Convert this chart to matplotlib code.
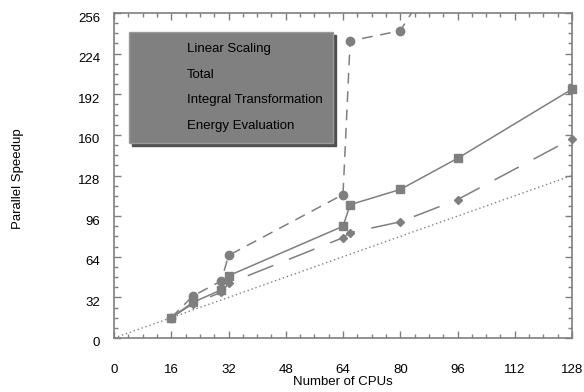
import matplotlib
matplotlib.use("Agg")
import matplotlib.pyplot as plt
import matplotlib.transforms as mtransforms
from matplotlib.lines import Line2D
from matplotlib.ticker import MultipleLocator

plt.rcParams['font.family'] = ['Liberation Sans', 'DejaVu Sans']

# data
linear_x = [0, 128]
linear_y = [0, 128]

total_x = [16, 22, 30, 32, 64, 66, 80, 96, 128]
total_y = [16, 28, 38, 49, 88, 105, 117, 141.5, 196]

integral_x = [16, 22, 30, 32, 64, 66, 80, 96]
integral_y = [16, 33, 45, 65, 113, 234, 242, 313]

energy_x = [16, 22, 30, 32, 64, 66, 80, 96, 128]
energy_y = [16, 27, 36, 43, 79, 83, 91.5, 109, 157]

labels = ["Linear Scaling", "Total", "Integral Transformation", "Energy Evaluation"]

grey = '#7f7f7f'

fig = plt.figure(figsize=(5.84, 3.92), dpi=100)
ax = fig.add_axes([114/584, 1-338/392, 458/584, 325/392])

ax.plot(linear_x, linear_y, color=grey, lw=1, dashes=(1, 2))
ax.plot(total_x, total_y, color=grey, lw=1.1, marker='s', ms=6, clip_on=False)
ax.plot(integral_x, integral_y, color=grey, lw=1.1, marker='o', ms=6, dashes=(7, 5))
ax.plot(energy_x, energy_y, color=grey, lw=1.1, marker='D', ms=4, dashes=(18, 11), clip_on=False)

ax.set_xlim(0, 128)
ax.set_ylim(0, 256)
ax.xaxis.set_major_locator(MultipleLocator(16))
ax.xaxis.set_minor_locator(MultipleLocator(4))
ax.yaxis.set_major_locator(MultipleLocator(32))
ax.yaxis.set_minor_locator(MultipleLocator(8))

for s in ax.spines.values():
    s.set_color(grey)
    s.set_linewidth(1.2)

ax.tick_params(which='both', direction='in', top=True, right=True, color=grey, width=1, labelsize=9.5)
ax.tick_params(which='major', length=5)
ax.tick_params(which='minor', length=3)
ax.tick_params(axis='x', which='major', pad=19)
ax.tick_params(axis='y', which='major', pad=10)

# y tick labels sit a little below their ticks in the original
off = mtransforms.ScaledTranslation(0, -4/100, fig.dpi_scale_trans)
for lab in ax.get_yticklabels():
    lab.set_transform(lab.get_transform() + off)

ax.set_xlabel("Number of CPUs", fontsize=9.5, labelpad=0)
ax.set_ylabel("Parallel Speedup", fontsize=9.5)
ax.yaxis.set_label_coords(-0.1965, 0.49)

handles = [Line2D([], [], color='none') for _ in labels]
leg = ax.legend(handles, labels, loc='upper left', bbox_to_anchor=(0.033, 0.9415),
                facecolor='#808080', edgecolor='#9a9a9a', framealpha=1, fancybox=False,
                shadow={'color': '#505050', 'alpha': 1}, fontsize=9.5, labelspacing=1.0,
                borderpad=0.85, handlelength=2.7, handletextpad=0.8,
                borderaxespad=0)
leg.get_frame().set_linewidth(1)

fig.savefig("out.png", dpi=100)
